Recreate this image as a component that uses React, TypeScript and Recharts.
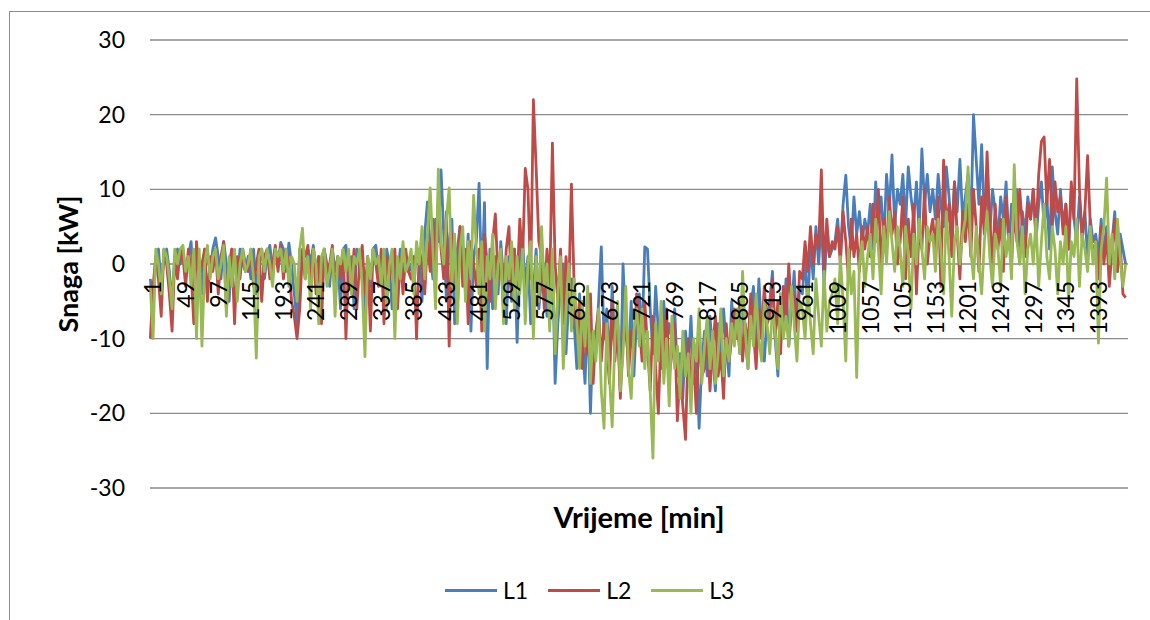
import React from "react";
import {
  LineChart,
  Line,
  XAxis,
  YAxis,
  CartesianGrid,
  Legend,
} from "recharts";

// power per phase, one reading every 4 minutes (minute 1, 5, 9, ... 1437)
const L1 = [
  -2, -6, 1, 2, -3, 1, 2, -1, -5, 1, 2, 0,
  2, -2, 1, 3, -3, 2, 0, -4, 2, 1, -1, 2,
  3.5, 1, -2, 3, 0, -5, 2, 1, -3, 2, 0, -1,
  1, -2, 2, -4, 0, 2, -2, 1, 2.5, -1, 2, 0,
  2.9, 2, -1, 2.8, 0, -4, -8, 2, 1, -2, 2, 0,
  2.5, -1, 1, -5, 2, 0, -3, 2, -1, 1, -6, 2,
  2.5, -3, 1, -6, 2, 0, -2, -8, 1, -3, 2, 2.5,
  -1, 1, -4, 2, 0, -6, 1, -2, 2, -3, 1, -1,
  0, -3, 2, 1, -5, 4, 8.3, 2, -2, 6, 3, 12.6,
  4, -5, 3, 6, -8, 2, 5, 0, -3, 4, -9, 1,
  3, 10.8, -3, 8.2, -14, 2, -6, 1, -4, 3, -2, -8,
  1, -5, 2, -10.5, 0, 3, -3, 1, -8, -4, 2, -6,
  -2, 0, -7, -4, 1, -16, -8, -3, 0, -12, -5, -2,
  -8, -14, -4, -10, -16, -6, -20, -9, -12, -5, 2.3, -10,
  -6, -14, -3, -11, -8, -17, 0, -9, -13, -5, -15, -7,
  -4, -10, 2.3, 2, -6, -12, -3, -9, -14, -5, -11, -8,
  -10, -6, -15, -12, -18, -9, -14, -7, -16, -11, -22, -13,
  -9, -15, -7, -12, -17, -8, -13, -6, -11, -15, -5, -10,
  -8, -12, -4, -10, -14, -6, -3, -11, -2, -9, -13, -7,
  -5, -1, -10, -15, -4, -8, -2, -11, -6, -1, -9, -3,
  -4, 1, -6, 3, -2, 5, 0, 6, -3, 4, 1, 2,
  3, 6, 1, 8, 11.9, 5, 2, 9, 4, 7, 3, 6,
  4, 8, 2, 11, 6, 9, 3, 12, 7, 14.6, 5, 10,
  8, 12, 5, 13, 9, 6, 11, 4, 15.4, 8, 12, 7,
  10, 6, 12, 8, 5, 13, 9, 4, 11, 7, 14, 6,
  9, 12, 5, 20, 14, 8, 16, 6, 11, 4, 10, 7,
  3, 9, 6, 11, 2, 8, 5, 10, 0, 7, 4, 9,
  6, 10, 3, 8, 11, 5, 9, 2, 13, 7, 4, 10,
  5, 8, 2, 10, 6, 3, 9, 4, 7, 1, 6, 3,
  4, 1, 6, 2, 5, 0, 3, 7, -1, 4, 2, 0,
];

const L2 = [
  -10, -3, 1, -2, -7, 2, 0, -4, -9, 1, -2, 2,
  1, -3, 2, -1, -8, 3, -2, 0, 2, -5, 1, -1,
  2, -4, 1, 3, -6, 0, 2, -8, 1, -2, 2, 0,
  -1, 2, -3, 0, 2, -5, 1, 2, -2, 0, 2.5, -1,
  2.5, -2, 2, 0, -5, -7, -10, -6, 2, 1, 2.5, -3,
  2, -4, 1, -8, 2, -1, 0, 2.5, -5, 1, -2, 2,
  -10, 1, -3, 2, -6, 0, 2.5, -4, 1, -9, 2, 0,
  -3, 2, -8, 1, -2, 0, 2, -6, 1, -4, 2, -1,
  -2, 1, -10, 2, 0, -4, 3, -1, 6, -3, 9, 2,
  -2, 7, -11, 4, 0, -6, 5, -3, 2, -8, 3, 0,
  -3, 2, -9, 4, 0, -5, 3, 6.7, -2, 1, -6, 2,
  5, -4, 2, -3, 6, 0, 12.8, 10, -2, 22, 13, 3,
  1, -6, 2, -3, 16.2, 0, -5, 2, -8, 1, -4, 10.7,
  -3, -10, -5, -14, -7, -12, -4, -16, -9, -6, -13, -8,
  -11, -16, -5, -13, -8, -18, -10, -6, -15, -9, -12, -4,
  -8, -13, -5, -11, -17, -7, -14, -20, -9, -12, -6, -15,
  -12, -8, -21, -14, -19, -23.5, -10, -16, -13, -20, -9, -15,
  -14, -9, -17, -11, -7, -15, -12, -18, -8, -13, -10, -6,
  -10, -5, -13, -8, -11, -4, -9, -14, -6, -10, -3, -8,
  -7, -2, -10, -5, -12, -3, -8, 0, -6, -4, -9, -1,
  -2, 3, -1, 5, 0, 4, 2, 12.6, -1, 6, 1, 3,
  2, 5, 0, 7, 3, -2, 6, 1, 4, -1, 5, 2,
  5, 1, 8, 3, 10, -1, 6, 2, 9, 4, 7, 0,
  3, 9, -2, 6, 1, 8, -4, 5, 2, 10, 0, 4,
  6, 2, 9, -3, 13.9, 5, 8, 1, 11, 4, -2, 7,
  3, 8, 1, 10, 5, -1, 9, 4, 15, 6, 0, 8,
  2, 6, -1, 9, 4, 0, 7, 3, 10, 5, 1, 8,
  6, 10, 4, 12, 16.4, 17, 8, 14, 5, 11, 7, 9,
  4, 8, 2, 11, 6, 24.8, 10, 3, 7, 14.5, 5, 1,
  3, -2, 5, 0, 4, -3, 2, 6, -1, 3, -4, -4.5,
];

const L3 = [
  -3, -10, 2, 0, -4, 2, 1, -2, -6, 2, 0, 2,
  2.5, -1, 1, -3, 2, -10, 2, -11, 0, 2.5, -2, 1,
  2, -2, 0, 2.5, -7, 1, -3, 2, -5, 0, 2, -1,
  0, 2, -2, -12.6, 1, 2, -1, 2, 0, -3, 2, 1,
  2, -1, 2, -3, 1, 0, -5, 2, 4.8, -2, 1, -6,
  2, 0, -8, 1, 2, -3, -1, 2, -7, 1, 0, 2,
  -1, 2, -4, 1, 0, 2, -3, -12.4, 1, -2, 2, 0,
  1, -3, 2, -6, 0, 2, -10, 1, -2, 3, -1, 0,
  2, -4, 3, 0, 5, -2, 4, 10.2, 2, -6, 12.7, 3,
  0, 6, 10.2, -3, 4, -8, 2, 5, -5, 3, -2, 9.2,
  2, -4, 3, -9, 1, -2, 4, -6, 0, 2, -8, 1,
  -2, 3, -6, 1, -4, 2, -8, 0, 3, -10, 1, -5,
  5, -3, 0, -9, 2, -12, -4, 1, -14, -6, 0, -9,
  -2, -8, -14, -5, -11, -3, -16, -9, -13, -6, -17, -22,
  -8, -15, -21.8, -10, -5, -17, -12, -3, -14, -18, -9, -6,
  -11, -6, -14, -9, -17, -26, -8, -13, -5, -16, -10, -19,
  -7, -14, -11, -18, -9, -15, -12, -20, -10, -13, -6, -16,
  -11, -7, -14, -9, -16, -12, -6, -15, -10, -13, -8, -11,
  -6, -12, -1, -9, -14, -7, -11, -4, -10, -13, -5, -8,
  -12, -6, -9, -14, -4, -10, -7, -11, -3, -8, -13, -5,
  -6, -10, -3, -8, -12, -2, -7, -11, -1, -9, -5, -4,
  -2, -8, 1, -5, -13, 2, -4, -1, -15.2, 0, 3, -3,
  1, 4, -2, 6, 2, -4, 5, 0, 7, 3, -1, 5,
  2, -3, 5, 1, -6, 4, 0, 6, 2, -2, 5, 3,
  4, -1, 6, 2, -4, 7, 1, -7, 3, 5, 0, 4,
  6, 13, 2, -2, 5, 0, -4, 3, 7, 1, -3, 4,
  2, -3, 6, 1, 4, -2, 13.3, 3, 0, 5, -4, 2,
  4, 0, 6, -3, 3, 8, 1, -2, 5, 2, -4, 3,
  0, 5, -5, 3, 1, 6, -3, 4, 2, -1, 5, 0,
  3, -10.6, 2, 5, 11.5, 0, 4, -2, 6, 1, -3, 0,
];

const MINUTES = L1.map((_, i) => 1 + 4 * i);

const X_TICKS = [
  1, 49, 97, 145, 193, 241, 289, 337, 385, 433, 481, 529, 577, 625, 673,
  721, 769, 817, 865, 913, 961, 1009, 1057, 1105, 1153, 1201, 1249, 1297,
  1345, 1393,
];
const Y_TICKS = [-30, -20, -10, 0, 10, 20, 30];

const SERIES = [
  { key: "L1", color: "#4a7ebb" },
  { key: "L2", color: "#be4b48" },
  { key: "L3", color: "#98b954" },
];

const rows = MINUTES.map((m, i) => ({ m, L1: L1[i], L2: L2[i], L3: L3[i] }));

const W = 1150;
const H = 620;
const MARGIN = { top: 40, right: 22, bottom: 0, left: 0 };
const Y_AXIS_W = 150;
const X_AXIS_H = 132;
const PLOT_H = H - MARGIN.top - MARGIN.bottom - X_AXIS_H;
const ZERO_Y = MARGIN.top + PLOT_H * (Y_TICKS[Y_TICKS.length - 1] / (Y_TICKS[Y_TICKS.length - 1] - Y_TICKS[0]));
const FONT = "Lato, 'Open Sans', sans-serif";

// category labels sit under the zero line, turned to read upward
const XTick = (props: any) => {
  const x = props.x + 2;
  const y = ZERO_Y + 17;
  return (
    <text
      x={x}
      y={y}
      transform={`rotate(-90 ${x} ${y})`}
      textAnchor="end"
      dominantBaseline="central"
      fontSize={23}
      fontFamily={FONT}
      fill="#000"
    >
      {props.payload.value}
    </text>
  );
};

const XTitle = (props: any) => {
  const vb = props.viewBox;
  return (
    <text
      x={vb.x + vb.width / 2}
      y={vb.y + 28}
      textAnchor="middle"
      dominantBaseline="central"
      fontSize={29}
      fontWeight="bold"
      fontFamily={FONT}
      fill="#000"
    >
      Vrijeme [min]
    </text>
  );
};

const YTitle = (props: any) => {
  const vb = props.viewBox;
  const cx = vb.x + 67;
  const cy = vb.y + vb.height / 2;
  return (
    <text
      x={cx}
      y={cy}
      transform={`rotate(-90 ${cx} ${cy})`}
      textAnchor="middle"
      dominantBaseline="central"
      fontSize={27}
      fontWeight="bold"
      fontFamily={FONT}
      fill="#000"
    >
      Snaga [kW]
    </text>
  );
};

const LegendRow = () => (
  <div style={{ display: "flex", alignItems: "center", fontFamily: FONT, fontSize: 23 }}>
    {SERIES.map((s) => (
      <div key={s.key} style={{ display: "flex", alignItems: "center", marginRight: 20 }}>
        <span style={{ width: 52, height: 3, background: s.color, display: "inline-block" }} />
        <span style={{ marginLeft: 6, color: "#000" }}>{s.key}</span>
      </div>
    ))}
  </div>
);

export default function App() {
  return (
    <div style={{ position: "relative", width: W, height: H }}>
      <style>{"body{margin:0}"}</style>
      <div
        style={{
          position: "absolute",
          left: 9,
          top: 11,
          width: W - 9,
          height: H - 11,
          boxSizing: "border-box",
          borderLeft: "1px solid #8c8c8c",
          borderTop: "1px solid #8c8c8c",
        }}
      />
      <LineChart
        width={W}
        height={H}
        data={rows}
        margin={MARGIN}
        style={{ position: "absolute", left: 0, top: 0 }}
      >
        <CartesianGrid vertical={false} stroke="#8a8a8a" strokeWidth={1.3} />
        {SERIES.map((s) => (
          <Line
            key={s.key}
            dataKey={s.key}
            type="linear"
            stroke={s.color}
            strokeWidth={2.8}
            strokeLinejoin="round"
            dot={false}
            isAnimationActive={false}
          />
        ))}
        <XAxis
          dataKey="m"
          type="number"
          domain={[0.5, 1440.5]}
          ticks={X_TICKS}
          interval={0}
          height={X_AXIS_H}
          axisLine={false}
          tickLine={false}
          tick={<XTick />}
          label={<XTitle />}
        />
        <YAxis
          domain={[Y_TICKS[0], Y_TICKS[Y_TICKS.length - 1]]}
          ticks={Y_TICKS}
          width={Y_AXIS_W}
          axisLine={false}
          tickLine={false}
          tickSize={0}
          tickMargin={25}
          tick={{ fontSize: 23, fontFamily: FONT, fill: "#000" }}
          label={<YTitle />}
        />
        <Legend
          layout="horizontal"
          verticalAlign="middle"
          align="center"
          wrapperStyle={{ top: 576, left: 445, width: 320, height: 26 }}
          content={() => <LegendRow />}
        />
      </LineChart>
    </div>
  );
}
